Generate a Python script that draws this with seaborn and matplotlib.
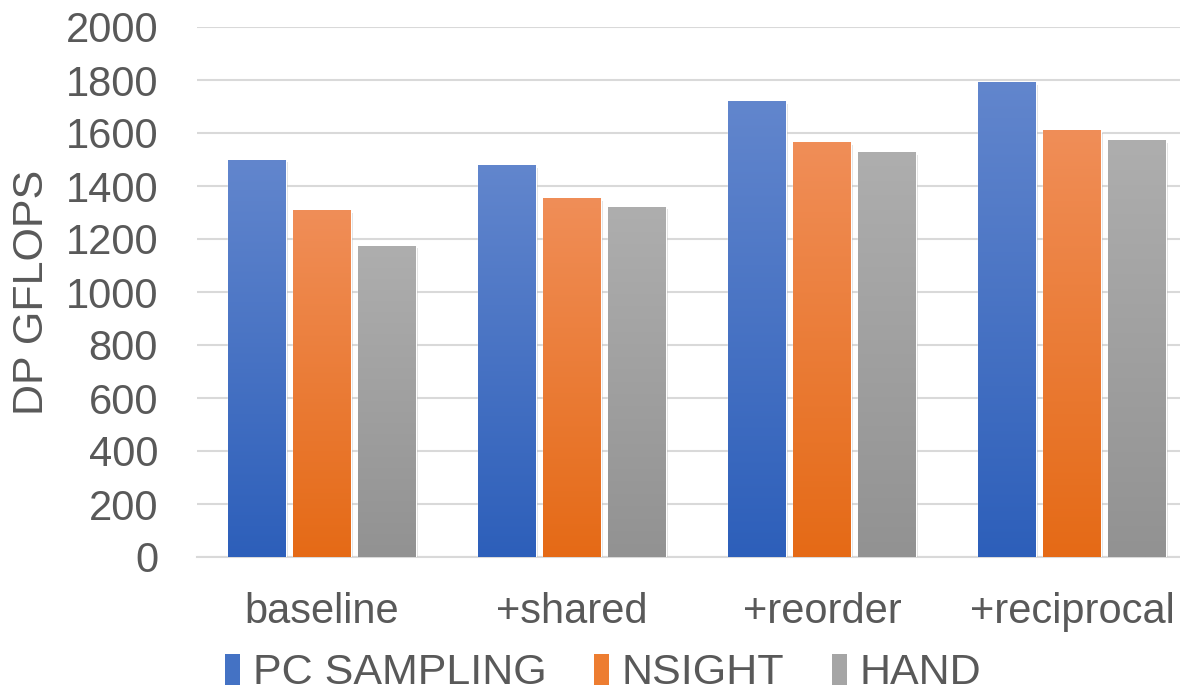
import numpy as np
import pandas as pd
import seaborn as sns
import matplotlib.pyplot as plt
import matplotlib.patheffects as pe
from matplotlib.colors import LinearSegmentedColormap
from matplotlib.patches import Patch

# --- DADOS ---
categorias = ["baseline", "+shared", "+reorder", "+reciprocal"]
series = ["PC SAMPLING", "NSIGHT", "HAND"]
pc_sampling = [1500, 1480, 1720, 1793]
nsight = [1310, 1355, 1566, 1612]
hand = [1175, 1322, 1529, 1574]

# cores (topo, base) do gradiente
cores_topo = ["#6286CD", "#F08E58", "#AEAEAE"]
cores_base = ["#2D5FBA", "#E56A16", "#929292"]
cores_meio = ["#4472C4", "#ED7D31", "#A5A5A5"]

df = pd.DataFrame({
    "categoria": categorias * 3,
    "serie": [s for s in series for _ in categorias],
    "valor": pc_sampling + nsight + hand,
})

sns.set_style("white")
plt.rcParams["font.family"] = ["Liberation Sans", "DejaVu Sans"]
texto = "#595959"

fig = plt.figure(figsize=(11.8, 6.97), dpi=100)
ax = fig.add_axes([197 / 1180, 1 - 557 / 697, 1000 / 1180, 530 / 697])

sns.barplot(data=df, x="categoria", y="valor", hue="serie", order=categorias,
            hue_order=series, palette=cores_meio, width=0.78, gap=0.12,
            errorbar=None, legend=False, ax=ax, zorder=3)

ax.set_ylim(0, 2000)
ax.set_xlim(-0.5, 3.5)
ax.set_yticks(range(0, 2001, 200))

# gradiente vertical em cada barra
gradiente = np.linspace(0, 1, 256).reshape(-1, 1)
for i, cont in enumerate(ax.containers):
    cmap = LinearSegmentedColormap.from_list("g%d" % i, [cores_base[i], cores_topo[i]])
    for barra in cont:
        x0, y0 = barra.get_x(), barra.get_y()
        w, h = barra.get_width(), barra.get_height()
        barra.set_path_effects([pe.SimplePatchShadow(offset=(2, -2), alpha=0.25, shadow_rgbFace="#808080"), pe.Normal()])
        img = ax.imshow(gradiente, cmap=cmap, aspect="auto", origin="lower",
                        extent=(x0, x0 + w, y0, y0 + h), zorder=4)
        img.set_clip_path(barra)

ax.grid(axis="y", color="#D9D9D9", linewidth=1.5, zorder=0)
ax.set_axisbelow(True)
for lado in ["top", "right", "left"]:
    ax.spines[lado].set_visible(False)
ax.spines["bottom"].set_color("#D9D9D9")
ax.spines["bottom"].set_linewidth(1.5)

ax.tick_params(axis="both", length=0, labelsize=30, labelcolor=texto)
ax.tick_params(axis="y", pad=28)
ax.tick_params(axis="x", pad=25)
ax.set_xlabel("")
ax.set_ylabel("DP GFLOPS", fontsize=31, color=texto)
ax.yaxis.set_label_coords(-0.145, 0.5)

handles = [Patch(facecolor=c, edgecolor="none") for c in cores_meio]
fig.legend(handles, series, loc="center", bbox_to_anchor=(603 / 1180, 0.034),
           ncol=3, frameon=False, fontsize=31, labelcolor=texto,
           handlelength=0.35, handleheight=0.75, handletextpad=0.3, columnspacing=1.1,
           borderpad=0)

fig.savefig("out.png", dpi=100)
